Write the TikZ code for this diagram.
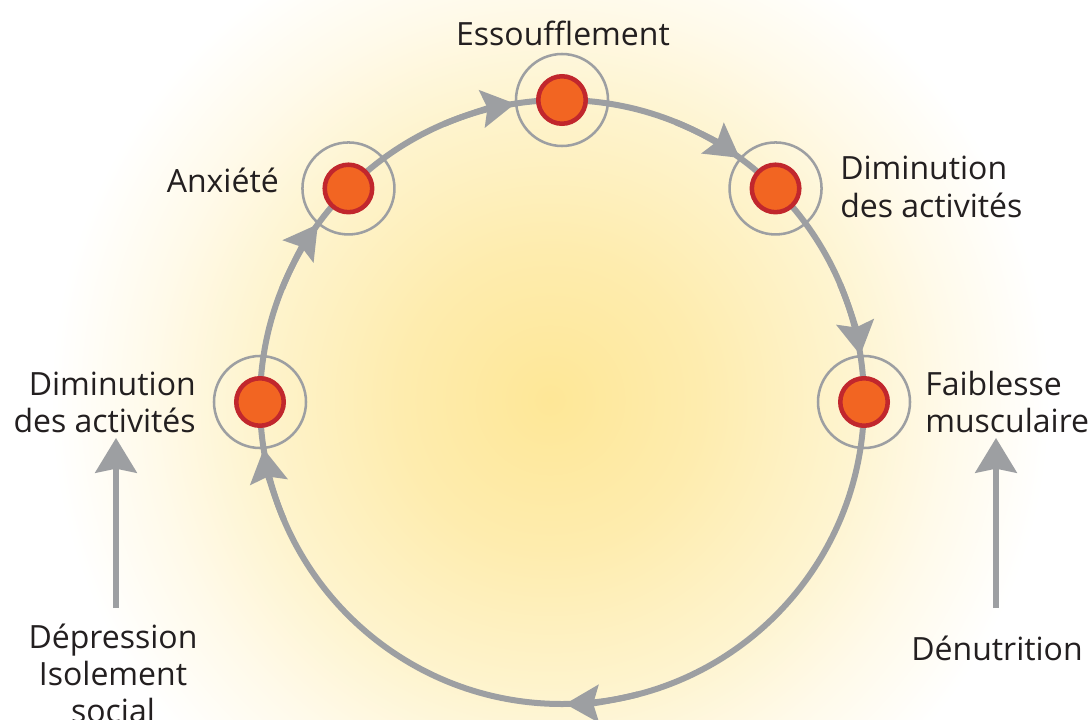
\documentclass[tikz,border=0pt]{standalone}
\usepackage{fontspec}
\setmainfont{Open Sans}
\usetikzlibrary{arrows.meta,calc}
\definecolor{cgray}{HTML}{9D9FA2}
\definecolor{corange}{HTML}{F26522}
\definecolor{cred}{HTML}{C1272D}
\definecolor{ctext}{HTML}{231F20}
\definecolor{gA}{HTML}{FEE797}
\definecolor{gB}{HTML}{FEECAE}
\definecolor{gC}{HTML}{FEF4CF}
\definecolor{gD}{HTML}{FFFAEA}
\pgfdeclareradialshading{glow}{\pgfpoint{0bp}{0bp}}{color(0bp)=(gA); color(7.5bp)=(gB); color(15bp)=(gC); color(20bp)=(gD); color(25bp)=(white); color(50bp)=(white)}
\begin{document}
\begin{tikzpicture}[x=0.75pt,y=0.75pt,
  cyc/.style={draw=cgray, line width=4.5pt},
  arr/.style={cyc, -{Stealth[length=25pt,width=28pt,inset=4pt]}},
  varr/.style={draw=cgray, line width=4.5pt, -{Stealth[length=26pt,width=31pt,inset=3pt]}},
  ring/.style={draw=cgray, line width=1.9pt},
  dot/.style={circle, draw=cred, fill=corange, line width=3.4pt, minimum size=35.6pt, inner sep=0pt},
  lbl/.style={font=\fontsize{24}{27.75}\selectfont, text=ctext, inner sep=0pt},
  ]
\useasboundingbox (0,0) rectangle (1091,719);
\fill[white] (0,0) rectangle (1091,719);
\begin{scope}
  \clip (0,0) rectangle (1091,719);
  \shade[shading=glow] (550,319) circle (500);
\end{scope}
\def\rr{302}
\coordinate (C) at (562,317);
% main cycle
\draw[cyc] (C) circle (\rr);
% node positions
\coordinate (pL) at ([shift={(C)}]180:\rr);
\coordinate (pA) at ([shift={(C)}]135:\rr);
\coordinate (pT) at ([shift={(C)}]90:\rr);
\coordinate (pD) at ([shift={(C)}]45:\rr);
\coordinate (pR) at ([shift={(C)}]0:\rr);
\foreach \p in {pL,pA,pT,pD,pR} \draw[ring] (\p) circle (46);
% arrow heads along the cycle (short arcs laid on the circle)
\foreach \e in {143.93, 98.93, 53.93, 8.93, -89.4, -171.07}
  \draw[arr] ([shift={(C)}]\e+14:\rr) arc[start angle=\e+14, end angle=\e, radius=\rr];
% dots
\node[dot] (nL) at (pL) {};
\node[dot] (nA) at (pA) {};
\node[dot] (nT) at (pT) {};
\node[dot] (nD) at (pD) {};
\node[dot] (nR) at (pR) {};
% labels
\node[lbl, anchor=base] (ess) at (563,673) {Essoufflement};
\node[lbl, anchor=base east] (anx) at (279,527) {Anxiété};
\node[lbl, anchor=base west] (dimR) at (840,539) {\begin{tabular}[t]{@{}l@{}}Diminution\\des activités\end{tabular}};
\node[lbl, anchor=base west] (fai) at (925,324) {\begin{tabular}[t]{@{}l@{}}Faiblesse\\musculaire\end{tabular}};
\node[lbl, anchor=base east] (dimL) at (196,324) {\begin{tabular}[t]{@{}r@{}}Diminution\\des activités\end{tabular}};
\node[lbl, anchor=base] (dep) at (113,71) {\begin{tabular}[t]{@{}c@{}}Dépression\\Isolement\\social\end{tabular}};
\node[lbl, anchor=base] (den) at (997,59) {Dénutrition};
% side arrows
\coordinate (s1) at (116,111);
\coordinate (e1) at (116,281);
\coordinate (s2) at (996,111);
\coordinate (e2) at (996,281);
\draw[varr] (s1) -- (e1);
\draw[varr] (s2) -- (e2);
\end{tikzpicture}
\end{document}
